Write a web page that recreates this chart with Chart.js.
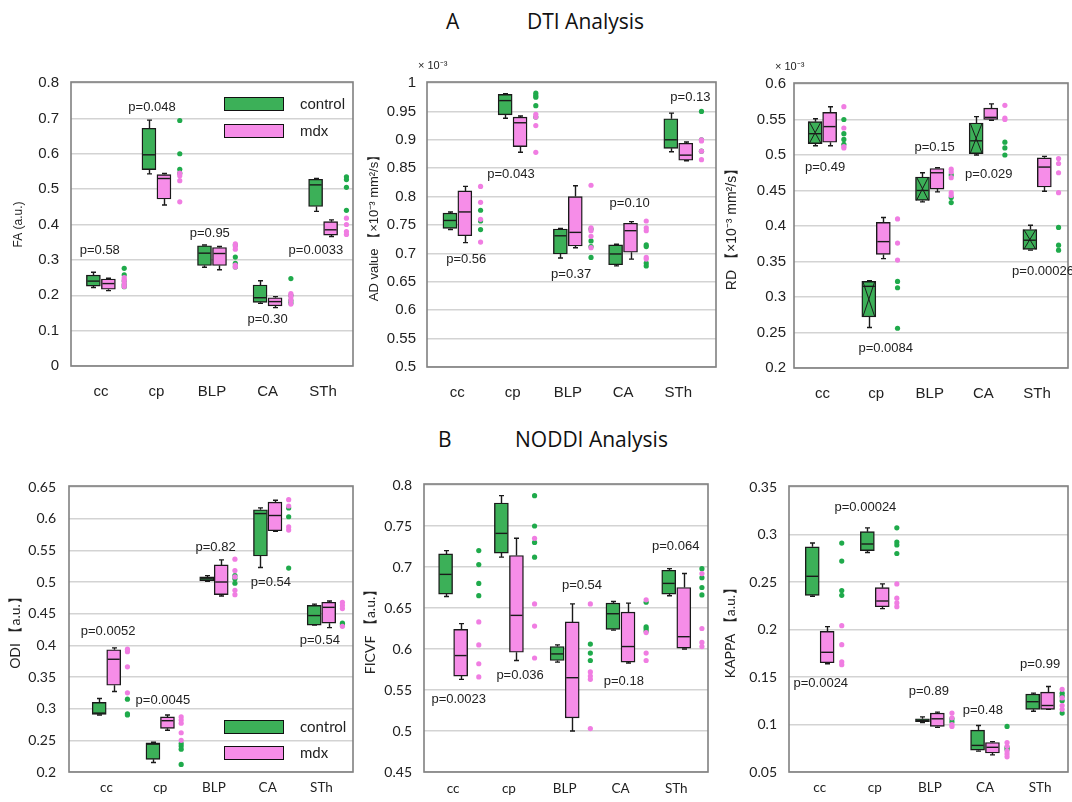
<!DOCTYPE html>
<html><head><meta charset="utf-8">
<script src="https://cdn.jsdelivr.net/npm/chart.js@4.4.1/dist/chart.umd.min.js"></script>
<style>
body{margin:0;width:1072px;height:802px;background:#fff;position:relative;overflow:hidden;font-family:'Liberation Sans',Arial,sans-serif;}
canvas{position:absolute;}
.ttl{position:absolute;font-family:'Open Sans',sans-serif;font-size:21px;color:#111;line-height:1;white-space:nowrap;}
.lg{position:absolute;width:60px;height:14px;border:1.5px solid #111;box-sizing:border-box;}
.lt{position:absolute;font-size:15px;color:#222;line-height:1;white-space:nowrap;}
</style></head><body>
<div class="ttl" style="left:446px;top:11px;">A</div>
<div class="ttl" style="left:527px;top:11px;">DTI Analysis</div>
<div class="ttl" style="left:438px;top:429px;">B</div>
<div class="ttl" style="left:515px;top:429px;">NODDI Analysis</div>
<script>
// ---------------- data ----------------
const categories = ['cc', 'cp', 'BLP', 'CA', 'STh'];
const seriesNames = ['control', 'mdx'];

// box stats: [min, q1, median, q3, max]
const faControlBox = [[0.222,0.226,0.240,0.257,0.265],[0.543,0.555,0.597,0.672,0.695],[0.279,0.284,0.319,0.340,0.342],[0.177,0.180,0.193,0.229,0.241],[0.437,0.451,0.512,0.528,0.530]];
const faMdxBox     = [[0.213,0.217,0.233,0.246,0.248],[0.455,0.472,0.530,0.541,0.544],[0.272,0.284,0.318,0.335,0.338],[0.165,0.170,0.182,0.193,0.196],[0.366,0.370,0.385,0.408,0.413]];
const faControlDots = [[0.276,0.258,0.240,0.230,0.224],[0.694,0.600,0.556,0.545],[0.342,0.308,0.290,0.280],[0.247,0.200,0.185,0.178],[0.535,0.527,0.505,0.440]];
const faMdxDots     = [[0.250,0.245,0.240,0.232,0.225],[0.545,0.538,0.524,0.464],[0.345,0.338,0.330,0.285,0.280],[0.205,0.200,0.193,0.185,0.175],[0.418,0.400,0.380,0.372]];
const faPText = ['p=0.58','p=0.048','p=0.95','p=0.30','p=0.0033'];
const faPX = [0.98, 1.92, 2.96, 4.0, 4.87];
const faPY = [0.326, 0.731, 0.375, 0.132, 0.326];

const adControlBox = [[0.742,0.744,0.758,0.771,0.773],[0.938,0.944,0.969,0.980,0.981],[0.692,0.699,0.731,0.743,0.744],[0.678,0.680,0.699,0.715,0.716],[0.879,0.885,0.900,0.937,0.947]];
const adMdxBox     = [[0.719,0.731,0.773,0.810,0.818],[0.878,0.888,0.930,0.940,0.942],[0.710,0.713,0.737,0.800,0.819],[0.690,0.702,0.740,0.753,0.756],[0.863,0.864,0.873,0.894,0.896]];
const adControlDots = [[0.776,0.757,0.742],[0.982,0.978,0.975,0.960,0.940],[0.743,0.722,0.712,0.693],[0.715,0.712,0.683,0.678],[0.950,0.900,0.880]];
const adMdxDots     = [[0.818,0.790,0.760,0.720],[0.945,0.940,0.925,0.878],[0.820,0.745,0.740,0.730,0.710],[0.757,0.745,0.740,0.693,0.690],[0.900,0.898,0.880,0.865]];
const adPText = ['p=0.56','p=0.043','p=0.37','p=0.10','p=0.13'];
const adPX = [1.16, 1.97, 3.06, 4.12, 5.22];
const adPY = [0.690, 0.839, 0.663, 0.788, 0.975];

const rdControlBox = [[0.513,0.516,0.530,0.547,0.551],[0.257,0.272,0.315,0.322,0.323],[0.434,0.436,0.450,0.469,0.475],[0.500,0.502,0.520,0.545,0.554],[0.366,0.367,0.380,0.395,0.401]];
const rdMdxBox     = [[0.513,0.518,0.540,0.560,0.568],[0.354,0.360,0.378,0.405,0.412],[0.448,0.452,0.475,0.481,0.482],[0.549,0.550,0.553,0.566,0.572],[0.449,0.455,0.483,0.496,0.498]];
const rdControlDots = [[0.550,0.530,0.522,0.515],[0.322,0.313,0.256],[0.472,0.440,0.433],[0.518,0.510,0.500],[0.398,0.373,0.366]];
const rdMdxDots     = [[0.568,0.538,0.512,0.510],[0.410,0.376,0.352],[0.480,0.476,0.468,0.447,0.443],[0.570,0.552,0.550],[0.495,0.488,0.475,0.447]];
const rdPText = ['p=0.49','p=0.0084','p=0.15','p=0.029','p=0.00026'];
const rdPX = [1.05, 2.18, 3.09, 4.1, 5.11];
const rdPY = [0.483, 0.227, 0.510, 0.473, 0.336];

const odiControlBox = [[0.290,0.291,0.293,0.310,0.316],[0.215,0.220,0.244,0.246,0.247],[0.501,0.502,0.505,0.508,0.510],[0.523,0.541,0.608,0.614,0.617],[0.432,0.432,0.447,0.463,0.465]];
const odiMdxBox     = [[0.327,0.337,0.378,0.393,0.396],[0.266,0.269,0.281,0.287,0.290],[0.478,0.480,0.500,0.527,0.535],[0.580,0.581,0.605,0.626,0.629],[0.428,0.435,0.460,0.468,0.470]];
const odiControlDots = [[0.315,0.292,0.290],[0.245,0.241,0.236,0.212],[0.510,0.505,0.498],[0.617,0.603,0.522],[0.435,0.432]];
const odiMdxDots     = [[0.394,0.390,0.366,0.325],[0.287,0.282,0.277,0.262,0.250],[0.536,0.518,0.508,0.487,0.480],[0.630,0.620,0.587,0.582],[0.468,0.463,0.458,0.430]];
const odiPText = ['p=0.0052','p=0.0045','p=0.82','p=0.54','p=0.54'];
const odiPX = [1.03, 2.05, 3.03, 4.06, 4.97];
const odiPY = [0.4215, 0.313, 0.555, 0.500, 0.407];

const ficvfControlBox = [[0.664,0.667,0.691,0.716,0.720],[0.712,0.717,0.741,0.778,0.787],[0.584,0.586,0.594,0.603,0.605],[0.623,0.624,0.643,0.656,0.658],[0.665,0.667,0.680,0.696,0.698]];
const ficvfMdxBox     = [[0.563,0.567,0.592,0.624,0.631],[0.586,0.596,0.641,0.714,0.735],[0.500,0.516,0.565,0.633,0.655],[0.583,0.584,0.603,0.645,0.656],[0.600,0.601,0.615,0.675,0.692]];
const ficvfControlDots = [[0.720,0.703,0.680,0.665],[0.787,0.750,0.730,0.712],[0.606,0.595,0.586],[0.657,0.627,0.625,0.622],[0.698,0.687,0.675,0.666]];
const ficvfMdxDots     = [[0.633,0.605,0.582,0.566],[0.735,0.655,0.628,0.589],[0.655,0.572,0.567,0.563,0.503],[0.660,0.620,0.595,0.586],[0.692,0.625,0.608,0.603]];
const ficvfPText = ['p=0.0023','p=0.036','p=0.54','p=0.18','p=0.064'];
const ficvfPX = [1.1, 2.2, 3.31, 4.06, 4.99];
const ficvfPY = [0.538, 0.568, 0.678, 0.561, 0.725];

const kappaControlBox = [[0.235,0.236,0.256,0.287,0.291],[0.281,0.283,0.290,0.303,0.307],[0.102,0.103,0.104,0.106,0.108],[0.072,0.073,0.078,0.094,0.099],[0.114,0.116,0.124,0.132,0.133]];
const kappaMdxBox     = [[0.164,0.165,0.176,0.198,0.203],[0.222,0.224,0.230,0.244,0.248],[0.097,0.098,0.106,0.112,0.113],[0.068,0.070,0.076,0.081,0.082],[0.116,0.116,0.120,0.134,0.140]];
const kappaControlDots = [[0.291,0.272,0.241,0.236],[0.307,0.292,0.289,0.280],[0.106,0.103],[0.098,0.076,0.074],[0.133,0.130,0.125,0.112]];
const kappaMdxDots     = [[0.204,0.184,0.166,0.163],[0.248,0.233,0.228,0.224],[0.112,0.107,0.100,0.098],[0.081,0.077,0.072,0.069,0.066],[0.137,0.128,0.120,0.116]];
const kappaPText = ['p=0.0024','p=0.00024','p=0.89','p=0.48','p=0.99'];
const kappaPX = [1.02, 1.83, 2.98, 3.96, 5.0];
const kappaPY = [0.1437, 0.328, 0.135, 0.115, 0.163];

// ---------------- styles / layout ----------------
const GREEN_FILL = '#3cb058', PINK_FILL = '#f68de8';
const GREEN_DOT = '#1faa4b', PINK_DOT = '#f07de2';
const INK = '#1a1a1a';
const BOX_OFF = 0.135, BOX_W = 14;

const panels = [
  {id:'fa', cv:[0,60,360,345], area:[71,83,353,366], xr:[0.462,5.538], yr:[0,0.8,0.1], title:'FA (a.u.)', tSize:12, tX:19, tickPad:12, catPad:17, fam:'Liberation Sans', tick:15, cat:15, dotOff:0.42,
   ctrl:faControlBox, mdx:faMdxBox, cd:faControlDots, md:faMdxDots, pt:faPText, px:faPX, py:faPY},
  {id:'ad', cv:[355,55,365,350], area:[427,83,718,367], xr:[0.45,5.683], yr:[0.5,1,0.05], title:'AD value 【×10⁻³ mm²/s】', tSize:13, tX:374, tickPad:11, catPad:17, fam:'Liberation Sans', tick:15, cat:15, dotOff:0.42, expo:-9,
   ctrl:adControlBox, mdx:adMdxBox, cd:adControlDots, md:adMdxDots, pt:adPText, px:adPX, py:adPY},
  {id:'rd', cv:[720,55,352,350], area:[794,84,1071,368], xr:[0.471,5.576], yr:[0.2,0.6,0.05], title:'RD 【×10⁻³ mm²/s】', tSize:14, tX:731.7, tickPad:8, catPad:17, fam:'Liberation Sans', tick:15, cat:15, dotOff:0.40, expo:-19, cross:true,
   ctrl:rdControlBox, mdx:rdMdxBox, cd:rdControlDots, md:rdMdxDots, pt:rdPText, px:rdPX, py:rdPY},
  {id:'odi', cv:[0,460,360,342], area:[69,487,353,772], xr:[0.303,5.587], yr:[0.2,0.65,0.05], title:'ODI 【a.u.】', tSize:14, tX:15, tickPad:13, catPad:8, fam:'Lato', tick:14, cat:13.5, dotOff:0.39,
   ctrl:odiControlBox, mdx:odiMdxBox, cd:odiControlDots, md:odiMdxDots, pt:odiPText, px:odiPX, py:odiPY},
  {id:'ficvf', cv:[355,460,365,342], area:[424,485,708,772], xr:[0.478,5.569], yr:[0.45,0.8,0.05], title:'FICVF 【a.u.】', tSize:14, tX:370, tickPad:12, catPad:9, fam:'Lato', tick:14, cat:13.5, dotOff:0.46,
   ctrl:ficvfControlBox, mdx:ficvfMdxBox, cd:ficvfControlDots, md:ficvfMdxDots, pt:ficvfPText, px:ficvfPX, py:ficvfPY},
  {id:'kappa', cv:[720,460,352,342], area:[789,487,1070,772], xr:[0.443,5.506], yr:[0.05,0.35,0.05], title:'KAPPA 【a.u.】', tSize:14, tX:730, tickPad:12, catPad:8, fam:'Lato', tick:14, cat:13.5, dotOff:0.40,
   ctrl:kappaControlBox, mdx:kappaMdxBox, cd:kappaControlDots, md:kappaMdxDots, pt:kappaPText, px:kappaPX, py:kappaPY}
];

function makeExtras(pn) {
  const groups = [[pn.ctrl, -BOX_OFF, true], [pn.mdx, BOX_OFF, false]];
  return {
    id: 'extras_' + pn.id,
    beforeDatasetsDraw(chart) {
      const {ctx, scales: {x, y}} = chart;
      ctx.save(); ctx.strokeStyle = INK; ctx.lineWidth = 1.4;
      groups.forEach(([boxes, off]) => boxes.forEach((b, i) => {
        const cx = Math.round(x.getPixelForValue(i + 1 + off)) + 0.5;
        const [mn, q1, , q3, mx] = b.map(v => y.getPixelForValue(v));
        ctx.beginPath();
        ctx.moveTo(cx, q3); ctx.lineTo(cx, mx);
        ctx.moveTo(cx - 2.5, mx); ctx.lineTo(cx + 2.5, mx);
        ctx.moveTo(cx, q1); ctx.lineTo(cx, mn);
        ctx.moveTo(cx - 2.5, mn); ctx.lineTo(cx + 2.5, mn);
        ctx.stroke();
      }));
      ctx.restore();
    },
    afterDatasetsDraw(chart) {
      const {ctx, scales: {x, y}} = chart;
      ctx.save(); ctx.strokeStyle = INK;
      groups.forEach(([boxes, off, isCtrl]) => boxes.forEach((b, i) => {
        const cx = x.getPixelForValue(i + 1 + off);
        const [, q1, md, q3] = b.map(v => y.getPixelForValue(v));
        const l = cx - BOX_W / 2 + 1, r = cx + BOX_W / 2 - 1;
        ctx.lineWidth = 1.4;
        ctx.beginPath(); ctx.moveTo(l, md); ctx.lineTo(r, md); ctx.stroke();
        if (pn.cross && isCtrl) {
          ctx.lineWidth = 1;
          ctx.beginPath();
          ctx.moveTo(l, q3); ctx.lineTo(r, q1);
          ctx.moveTo(l, q1); ctx.lineTo(r, q3);
          ctx.stroke();
        }
      }));
      ctx.restore();
    },
    afterDraw(chart) {
      const {ctx, chartArea: a, scales: {x, y}} = chart;
      ctx.save();
      ctx.strokeStyle = '#808080'; ctx.lineWidth = 1.6;
      ctx.strokeRect(a.left, a.top - 1, a.right - a.left, a.bottom - a.top + 1);
      ctx.fillStyle = '#222'; ctx.font = '13px "Liberation Sans", Arial, sans-serif';
      ctx.textAlign = 'center'; ctx.textBaseline = 'middle';
      pn.pt.forEach((t, i) => ctx.fillText(t, x.getPixelForValue(pn.px[i]), y.getPixelForValue(pn.py[i])));
      if (pn.expo !== undefined) {
        ctx.textAlign = 'left'; ctx.font = '11px "Liberation Sans", Arial, sans-serif';
        ctx.fillText('× 10⁻³', a.left + pn.expo, a.top - 17);
      }
      ctx.restore();
    }
  };
}

panels.forEach(pn => {
  const [cl, ct, cw, ch] = pn.cv;
  const [L, T, R, B] = pn.area;
  const cvs = document.createElement('canvas');
  cvs.width = cw; cvs.height = ch;
  cvs.style.left = cl + 'px'; cvs.style.top = ct + 'px';
  cvs.style.width = cw + 'px'; cvs.style.height = ch + 'px';
  document.body.appendChild(cvs);
  const yW = L - cl, xH = ch - (B - ct), padTop = T - ct, padRight = cl + cw - R;
  const titlePad = pn.tX - cl - pn.tSize * 0.6;
  const boxData = (boxes, off) => boxes.map((b, i) => ({x: i + 1 + off, y: [b[1], b[3]]}));
  const dotData = dots => dots.flatMap((arr, i) => arr.map(v => ({x: i + 1 + pn.dotOff, y: v})));
  new Chart(cvs, {
    type: 'bar',
    data: {
      datasets: [
        {label: seriesNames[0], data: boxData(pn.ctrl, -BOX_OFF), backgroundColor: GREEN_FILL, borderColor: INK, borderWidth: 1.4, borderSkipped: false, barThickness: BOX_W, grouped: false, order: 3},
        {label: seriesNames[1], data: boxData(pn.mdx, BOX_OFF), backgroundColor: PINK_FILL, borderColor: INK, borderWidth: 1.4, borderSkipped: false, barThickness: BOX_W, grouped: false, order: 2},
        {type: 'scatter', label: seriesNames[0] + ' points', data: dotData(pn.cd), pointRadius: 2.6, pointBackgroundColor: GREEN_DOT, pointBorderWidth: 0, order: 1},
        {type: 'scatter', label: seriesNames[1] + ' points', data: dotData(pn.md), pointRadius: 2.6, pointBackgroundColor: PINK_DOT, pointBorderWidth: 0, order: 0}
      ]
    },
    options: {
      responsive: false, animation: false, devicePixelRatio: 1, events: [],
      layout: {padding: {top: padTop, right: padRight, left: 0, bottom: 0}},
      plugins: {legend: {display: false}, tooltip: {enabled: false}},
      scales: {
        x: {
          type: 'linear', min: pn.xr[0], max: pn.xr[1], offset: false,
          grid: {display: false, drawTicks: false}, border: {display: false},
          afterBuildTicks: s => { s.ticks = categories.map((c, i) => ({value: i + 1})); },
          afterFit: s => { s.height = xH; },
          ticks: {autoSkip: false, maxRotation: 0, padding: pn.catPad, color: '#222',
            font: {family: pn.fam, size: pn.cat},
            callback: v => categories[Math.round(v) - 1] || ''}
        },
        y: {
          type: 'linear', min: pn.yr[0], max: pn.yr[1],
          grid: {color: '#d3d3d3', lineWidth: 1.5, drawTicks: false}, border: {display: false},
          afterFit: s => { s.width = yW; },
          ticks: {stepSize: pn.yr[2], padding: pn.tickPad, color: '#222', font: {family: pn.fam, size: pn.tick},
            callback: v => String(+Number(v).toFixed(3))},
          title: {display: true, text: pn.title, color: '#222', font: {family: pn.fam, size: pn.tSize}, padding: {top: titlePad, bottom: 0}}
        }
      }
    },
    plugins: [makeExtras(pn)]
  });
});

// legends (HTML, real text)
function legend(left, top, gap, fam) {
  seriesNames.forEach((name, k) => {
    const sw = document.createElement('div');
    sw.className = 'lg';
    sw.style.left = left + 'px'; sw.style.top = (top + k * gap) + 'px';
    sw.style.background = k === 0 ? GREEN_FILL : PINK_FILL;
    document.body.appendChild(sw);
    const tx = document.createElement('div');
    tx.className = 'lt';
    tx.textContent = name;
    tx.style.left = (left + 76) + 'px'; tx.style.top = (top + k * gap - 1) + 'px';
    tx.style.fontFamily = fam;
    document.body.appendChild(tx);
  });
}
legend(224, 97, 27, '"Liberation Sans", Arial, sans-serif');
legend(224, 720, 26, 'Lato, sans-serif');
</script>
</body></html>
